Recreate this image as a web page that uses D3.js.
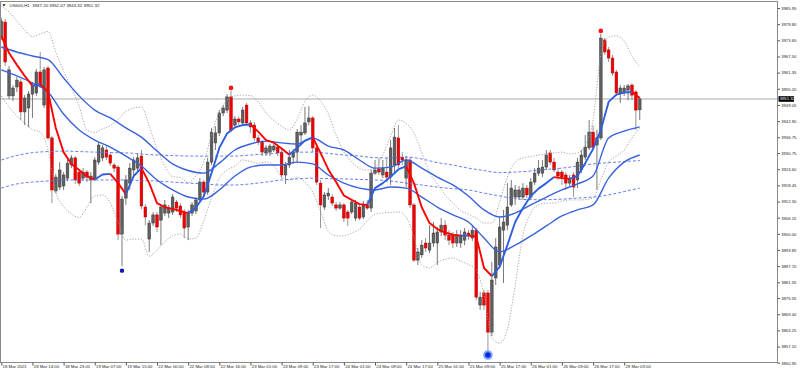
<!DOCTYPE html>
<html><head><meta charset="utf-8">
<script src="https://cdn.jsdelivr.net/npm/d3@7"></script>
<style>html,body{margin:0;padding:0;background:#fff;overflow:hidden}svg{display:block}</style>
</head><body><svg id="c" width="800" height="374"></svg>
<script>
// ---------- DATA (US500, H1) ----------
const symbolTitle = "US500,H1  3947.20 3952.07 3943.32 3951.32";
const lastPrice = 3951.32;

const open = [3974.9,3980.6,3952.5,3952.5,3955.9,3957.8,3946.4,3947.9,3953.2,3953.6,
3961.6,3949.0,3963.1,3936.5,3916.3,3917.8,3918.2,3921.2,3926.2,3928.9,
3923.5,3921.2,3923.5,3920.5,3921.2,3927.3,3928.9,3931.9,3930.0,3926.2,
3925.4,3899.9,3913.6,3919.3,3924.3,3925.0,3929.6,3910.2,3898.0,3904.1,
3907.2,3905.2,3907.9,3907.9,3908.3,3912.1,3910.6,3908.3,3902.6,3907.9,
3908.7,3912.9,3919.7,3915.9,3927.3,3934.6,3938.4,3946.0,3947.1,3952.1,
3941.4,3943.7,3942.2,3949.0,3942.2,3941.4,3936.5,3934.9,3930.8,3931.1,
3931.9,3933.0,3931.1,3922.4,3926.2,3929.2,3931.1,3937.6,3938.4,3942.6,
3944.1,3932.7,3919.3,3910.2,3914.4,3914.0,3911.0,3909.8,3911.0,3908.3,
3908.3,3906.0,3910.2,3906.4,3911.0,3909.8,3923.1,3924.7,3922.4,3923.5,
3921.6,3926.2,3936.5,3929.2,3921.2,3928.1,3911.0,3890.0,3892.0,3896.5,
3893.8,3896.5,3896.5,3900.7,3903.3,3899.5,3899.5,3896.5,3896.5,3897.6,
3900.3,3898.4,3901.4,3872.9,3877.5,3877.5,3862.6,3883.2,3888.1,3901.4,
3903.3,3911.0,3914.0,3914.0,3914.0,3917.4,3914.0,3919.7,3923.1,3923.1,
3925.4,3930.8,3927.3,3923.5,3923.5,3922.4,3919.3,3922.4,3920.5,3924.3,
3929.2,3932.7,3938.7,3933.8,3936.5,3973.8,3970.0,3966.9,3961.6,3953.6,
3954.0,3954.7,3956.6,3954.0,3947.20];
const high = [3982.1,3981.8,3963.9,3956.6,3959.7,3958.9,3952.8,3954.4,3957.8,3962.7,
3969.2,3963.5,3963.9,3937.2,3922.8,3927.3,3923.5,3928.1,3930.0,3929.6,
3924.3,3925.0,3924.3,3923.5,3929.2,3934.9,3933.8,3933.4,3931.1,3926.9,
3926.2,3914.4,3922.4,3926.9,3929.2,3930.4,3931.9,3911.3,3905.2,3908.3,
3908.3,3911.3,3912.9,3911.0,3915.1,3912.9,3911.7,3909.4,3909.1,3912.1,
3914.0,3921.2,3920.5,3928.9,3940.3,3941.0,3947.1,3949.0,3953.2,3954.4,
3944.8,3944.5,3948.3,3949.8,3943.3,3942.6,3937.6,3935.7,3933.8,3934.2,
3934.6,3934.2,3932.3,3927.3,3931.9,3932.3,3939.9,3941.4,3948.3,3948.6,
3944.8,3933.8,3920.5,3915.9,3917.4,3915.1,3912.1,3912.1,3911.7,3909.1,
3913.2,3912.9,3911.3,3912.5,3912.9,3924.3,3928.1,3928.9,3928.1,3928.9,
3935.7,3940.3,3941.4,3931.1,3929.6,3929.2,3911.7,3894.6,3897.6,3898.4,
3903.3,3904.5,3902.6,3906.0,3905.2,3901.4,3900.7,3901.4,3901.4,3902.2,
3901.4,3903.0,3902.2,3877.8,3878.6,3878.6,3889.3,3898.4,3906.4,3909.1,
3919.3,3920.5,3918.6,3918.2,3919.3,3918.6,3921.2,3925.0,3928.1,3928.1,
3931.9,3931.9,3928.9,3925.0,3924.3,3923.5,3922.4,3923.5,3928.9,3931.9,
3937.6,3943.3,3941.4,3939.5,3976.1,3974.5,3971.1,3968.1,3962.4,3956.6,
3956.6,3957.0,3957.4,3954.7,3952.07];
const low = [3973.8,3963.9,3951.3,3950.5,3954.0,3943.3,3941.4,3940.6,3944.1,3952.5,
3955.5,3947.9,3935.7,3911.7,3915.5,3916.7,3916.7,3920.1,3925.0,3919.0,
3918.2,3920.1,3919.7,3911.7,3920.1,3926.2,3927.7,3928.1,3925.8,3923.5,
3897.6,3887.7,3911.0,3916.7,3922.4,3923.5,3909.4,3903.3,3893.1,3903.0,
3900.7,3895.7,3906.8,3906.0,3907.2,3908.3,3906.0,3898.4,3897.6,3906.8,
3907.5,3912.1,3914.4,3914.8,3926.2,3931.9,3937.2,3944.8,3946.0,3938.7,
3940.3,3941.4,3941.0,3941.0,3938.4,3935.3,3933.8,3929.6,3929.6,3929.6,
3931.1,3929.6,3921.2,3919.0,3925.0,3926.6,3927.3,3933.8,3937.6,3941.4,
3931.1,3918.6,3902.2,3909.1,3912.9,3910.6,3908.7,3909.1,3904.5,3903.0,
3907.5,3904.9,3905.2,3905.6,3909.1,3908.3,3922.4,3922.4,3921.2,3919.7,
3918.6,3923.5,3925.0,3926.2,3917.8,3909.8,3889.3,3888.1,3890.8,3893.1,
3892.7,3895.0,3888.1,3899.2,3897.6,3895.7,3894.6,3895.0,3894.6,3895.7,
3897.6,3897.3,3874.8,3871.0,3871.0,3855.0,3861.1,3880.5,3887.0,3881.3,
3901.4,3910.2,3911.0,3912.9,3912.9,3913.6,3912.9,3918.6,3922.0,3921.6,
3924.3,3926.2,3923.5,3920.5,3918.6,3916.7,3918.2,3914.0,3917.4,3923.1,
3928.1,3931.9,3931.9,3916.7,3935.7,3968.1,3965.4,3960.1,3952.5,3949.8,
3952.5,3950.9,3950.9,3939.5,3943.32];
const close = [3981.0,3965.4,3962.4,3955.5,3958.5,3946.4,3951.7,3953.2,3956.6,3961.6,
3956.6,3962.4,3936.5,3916.7,3921.6,3924.3,3922.4,3926.9,3928.9,3920.5,
3919.3,3923.5,3921.6,3922.0,3928.1,3933.8,3932.7,3929.2,3926.9,3925.0,
3899.9,3913.2,3920.5,3925.0,3928.1,3928.9,3910.6,3906.4,3904.1,3907.2,
3902.6,3910.2,3911.0,3909.8,3914.0,3909.8,3907.2,3902.2,3907.9,3911.0,
3912.9,3919.7,3915.9,3927.3,3938.7,3938.4,3946.0,3947.9,3952.1,3939.5,
3943.7,3942.6,3947.1,3942.2,3940.7,3936.5,3934.9,3931.1,3932.7,3933.4,
3933.4,3930.8,3922.4,3926.2,3929.2,3931.1,3938.7,3938.7,3942.2,3944.1,
3932.7,3919.7,3911.0,3914.8,3915.5,3911.7,3909.8,3911.0,3906.0,3906.0,
3912.1,3911.7,3906.0,3911.0,3909.8,3923.1,3924.3,3923.5,3925.0,3921.6,
3932.7,3936.8,3926.2,3928.1,3928.1,3911.0,3890.0,3893.1,3895.7,3894.6,
3896.5,3900.3,3900.7,3903.3,3899.5,3897.6,3896.5,3899.5,3899.5,3900.7,
3899.2,3901.4,3875.9,3875.9,3872.9,3862.6,3882.4,3895.0,3902.6,3904.5,
3910.2,3917.4,3916.7,3916.7,3917.4,3914.8,3919.7,3923.1,3925.0,3925.4,
3930.0,3927.3,3924.3,3922.0,3921.6,3919.3,3921.2,3917.8,3927.3,3930.0,
3933.0,3938.7,3933.0,3936.5,3974.5,3969.2,3966.9,3961.2,3953.6,3955.5,
3955.5,3956.3,3952.8,3947.1,3951.32];

// fast colour-changing MA, sampled every 2 bars
const fastMA = [3975.3,3968.8,3964.3,3960.1,3956.3,3957.0,3954.0,3940.3,3931.1,3926.6,
3924.3,3921.8,3920.7,3922.6,3922.8,3919.3,3915.1,3922.0,3925.0,3919.3,
3911.7,3910.1,3909.5,3908.7,3907.9,3910.0,3914.2,3923.1,3932.7,3938.2,
3940.5,3941.4,3941.6,3938.9,3935.7,3934.7,3932.5,3930.1,3932.7,3935.5,
3936.7,3930.8,3924.5,3919.7,3914.6,3912.9,3911.3,3911.0,3917.4,3919.3,
3921.7,3924.5,3925.8,3919.3,3910.1,3904.1,3901.8,3900.5,3899.7,3899.3,
3899.3,3899.0,3887.0,3883.9,3887.4,3895.7,3904.5,3909.8,3914.4,3917.2,
3919.3,3921.6,3921.2,3920.9,3922.0,3926.9,3932.3,3939.5,3950.2,3953.0,
3953.8,3954.0,3951.7];
// price envelope (grey dotted), sampled every 2 bars
const bollUpper = [3986.7,3984.4,3981.0,3977.6,3975.1,3976.1,3977.0,3969.2,3962.0,3955.5,
3948.6,3939.5,3938.6,3939.9,3941.2,3943.5,3946.6,3947.9,3948.3,3941.0,
3932.3,3925.8,3921.8,3921.5,3919.5,3922.2,3927.3,3937.6,3946.4,3950.9,
3952.5,3952.8,3952.6,3950.2,3946.0,3943.1,3941.0,3939.5,3943.7,3950.5,
3952.8,3950.5,3945.6,3937.6,3931.1,3927.3,3925.0,3924.3,3925.2,3930.0,
3937.2,3943.3,3942.0,3938.4,3930.8,3923.5,3919.0,3914.8,3911.7,3908.9,
3907.5,3906.0,3904.1,3904.1,3912.1,3921.6,3927.3,3928.9,3929.4,3930.0,
3930.4,3930.8,3931.1,3930.4,3930.8,3933.8,3943.3,3968.1,3974.9,3975.3,
3973.4,3967.7,3963.5];
const bollLower = [3952.5,3948.3,3944.8,3942.2,3939.7,3938.7,3931.9,3915.9,3910.4,3907.6,
3906.2,3910.2,3914.4,3914.8,3911.7,3904.5,3897.6,3898.0,3898.0,3891.5,
3893.8,3896.9,3899.2,3899.9,3898.0,3898.4,3904.9,3913.6,3921.2,3924.3,
3925.8,3928.1,3927.5,3926.9,3927.3,3926.0,3921.6,3920.5,3921.6,3919.7,
3915.9,3908.7,3901.1,3899.3,3899.2,3900.3,3901.8,3904.9,3907.5,3907.9,
3908.1,3908.3,3906.4,3898.8,3888.1,3887.0,3889.1,3890.4,3890.8,3889.6,
3888.3,3886.2,3876.7,3860.3,3858.4,3863.7,3880.5,3899.5,3907.9,3911.0,
3911.7,3911.7,3912.5,3912.9,3912.9,3913.0,3913.6,3920.5,3927.3,3929.6,
3931.9,3936.5,3940.3];
// MA channel (solid blue), sampled every 4 bars
const chanUpper = [3971.1,3969.2,3967.7,3966.3,3959.3,3952.5,3947.1,3944.1,3940.3,3936.8,
3931.5,3926.6,3924.1,3923.1,3926.9,3931.9,3934.2,3935.3,3934.6,3934.2,
3936.5,3933.4,3931.9,3928.1,3925.0,3925.4,3928.1,3925.0,3921.6,3918.6,
3914.4,3909.1,3906.4,3907.9,3911.0,3914.0,3916.7,3919.0,3922.0,3936.5,
3939.1,3940.7];
const chanLower = [3962.4,3960.1,3957.4,3954.0,3945.6,3939.5,3935.7,3933.0,3929.6,3925.8,
3920.5,3916.7,3914.0,3913.2,3916.7,3922.0,3925.4,3926.2,3926.2,3927.3,
3926.6,3922.4,3919.3,3917.4,3916.7,3917.8,3917.4,3914.0,3910.2,3907.2,
3904.5,3898.4,3893.1,3895.7,3899.2,3903.0,3906.8,3909.1,3911.0,3921.2,
3927.3,3930.0];
// slow envelope (dashed blue), sampled every 4 bars
const envUpper = [3928.1,3929.8,3930.9,3931.3,3931.5,3931.3,3931.1,3930.9,3930.8,3930.4,
3930.0,3929.8,3929.6,3929.6,3929.6,3929.6,3930.0,3930.4,3930.8,3931.1,
3931.1,3930.6,3930.0,3929.6,3929.0,3928.9,3929.2,3928.5,3927.1,3926.2,
3925.0,3924.1,3923.3,3923.5,3923.9,3924.5,3925.0,3925.8,3926.6,3927.1,
3927.5,3927.9];
const envLower = [3917.4,3919.0,3919.7,3920.1,3920.5,3920.5,3920.5,3920.5,3920.5,3920.3,
3920.1,3919.7,3919.3,3919.0,3918.6,3918.6,3919.0,3919.7,3920.5,3920.9,
3921.2,3921.0,3920.9,3920.7,3920.5,3920.1,3919.3,3918.6,3917.8,3917.2,
3916.7,3915.5,3914.4,3913.4,3913.0,3913.0,3913.2,3913.6,3914.0,3914.8,
3916.1,3917.4];

// swing markers (bar index)
const swingHighBars = [59, 154];
const swingLowBars = [31];
const majorLowBars = [125];

// axis labels
const timeTickBars = [0,8,16,24,32,40,48,56,64,72,80,88,96,104,112,120,128,136,144,152,160];
const timeTickLabels = ["18 Mar 2021","18 Mar 14:00","18 Mar 23:01","19 Mar 07:00","19 Mar 15:00",
"22 Mar 00:00","22 Mar 08:00","22 Mar 16:00","23 Mar 01:00","23 Mar 09:00","23 Mar 17:00",
"24 Mar 01:00","24 Mar 09:00","24 Mar 17:00","25 Mar 01:00","25 Mar 09:00","25 Mar 17:00",
"26 Mar 01:00","26 Mar 09:00","26 Mar 17:00","29 Mar 03:00"];
const priceTickLabels = ["3985.95","3979.80","3973.65","3967.50","3961.35","3955.20","3949.05",
"3942.90","3936.75","3930.75","3924.60","3918.45","3912.30","3906.15","3900.00","3893.85",
"3887.70","3881.55","3875.55","3869.40","3863.25","3857.10","3850.95"];

// ---------- DRAW ----------
const W = 800, H = 374;
const PL = 0.5, PT = 1.5, PR = 777.5, PB = 362.5;
const N = open.length;
const svg = d3.select("#c");
const FONT = "'Liberation Sans', Arial, sans-serif";

const x = d3.scaleLinear().domain([0, N - 1]).range([1.3, 639.75]);
const y = d3.scaleLinear().domain([3850.95, 3985.95]).range([362.7, 8]);

svg.append("rect").attr("width", W).attr("height", H).attr("fill", "#fff");
svg.append("defs").append("clipPath").attr("id", "clip")
  .append("rect").attr("x", PL).attr("y", PT).attr("width", PR - PL).attr("height", PB - PT);

const g = svg.append("g").attr("clip-path", "url(#clip)");

// current price line
g.append("line").attr("x1", PL).attr("x2", PR)
  .attr("y1", y(lastPrice)).attr("y2", y(lastPrice))
  .attr("stroke", "#a9a9a9").attr("stroke-width", 1);

// candles
const bars = d3.range(N);
const cg = g.append("g");
cg.selectAll("line.wick").data(bars).join("line")
  .attr("x1", i => x(i)).attr("x2", i => x(i))
  .attr("y1", i => y(high[i])).attr("y2", i => y(low[i]))
  .attr("stroke", i => close[i] >= open[i] ? "#6a6a6a" : "#8a8a8a").attr("stroke-width", 0.9);
cg.selectAll("rect.body").data(bars).join("rect")
  .attr("x", i => x(i) - 1.35).attr("width", 2.7)
  .attr("y", i => Math.min(y(open[i]), y(close[i])))
  .attr("height", i => Math.max(0.8, Math.abs(y(open[i]) - y(close[i]))))
  .attr("fill", i => close[i] >= open[i] ? "#5f5f5f" : "#ee0000")
  .attr("stroke", i => close[i] >= open[i] ? "#3c3c3c" : "#b80000")
  .attr("stroke-width", 0.5);

// indicator lines
const idx2 = d3.range(0, N, 2);
const idx4 = d3.range(0, N, 4);
function drawSeries(vals, idx, stroke, width, dash) {
  const line = d3.line().x((d, k) => x(idx[k])).y(d => y(d)).curve(d3.curveMonotoneX);
  g.append("path").datum(vals).attr("d", line).attr("fill", "none")
    .attr("stroke", stroke).attr("stroke-width", width)
    .attr("stroke-dasharray", dash || null);
}
drawSeries(bollUpper, idx2, "#9c9c9c", 0.9, "1.2,1.6");
drawSeries(bollLower, idx2, "#9c9c9c", 0.9, "1.2,1.6");
drawSeries(envUpper, idx4, "#5570ee", 0.9, "3,2");
drawSeries(envLower, idx4, "#5570ee", 0.9, "3,2");
drawSeries(chanUpper, idx4, "#3a62dc", 1.4);
drawSeries(chanLower, idx4, "#3a62dc", 1.4);

// fast MA, red when falling, blue when rising
const runs = [];
for (let k = 1; k < fastMA.length; k++) {
  const col = fastMA[k] < fastMA[k - 1] ? "#ff0000" : "#2f5fe0";
  if (runs.length && runs[runs.length - 1].col === col) runs[runs.length - 1].pts.push(k);
  else runs.push({ col, pts: [k - 1, k] });
}
const fLine = d3.line().x(k => x(idx2[k])).y(k => y(fastMA[k]));
runs.forEach(r => {
  g.append("path").datum(r.pts).attr("d", fLine).attr("fill", "none")
    .attr("stroke", r.col).attr("stroke-width", 1.9).attr("stroke-linejoin", "round");
});

// swing markers
swingHighBars.forEach(b => g.append("circle").attr("cx", x(b)).attr("cy", y(high[b]) - 3)
  .attr("r", 2.3).attr("fill", "#ff1010"));
swingLowBars.forEach(b => g.append("circle").attr("cx", x(b)).attr("cy", y(low[b]) + 4.5)
  .attr("r", 2.2).attr("fill", "#0b16b8"));
majorLowBars.forEach(b => {
  g.append("circle").attr("cx", x(b)).attr("cy", y(low[b]) + 3).attr("r", 4.8).attr("fill", "#7da2ff");
  g.append("circle").attr("cx", x(b)).attr("cy", y(low[b]) + 3).attr("r", 2.8).attr("fill", "#0a2ad6");
});

// frame
svg.append("rect").attr("x", PL).attr("y", PT).attr("width", PR - PL).attr("height", PB - PT)
  .attr("fill", "none").attr("stroke", "#8a8a8a").attr("stroke-width", 1);

// right price axis
const yAxis = d3.axisRight(y)
  .tickValues(priceTickLabels.map(Number))
  .tickFormat((d, i) => priceTickLabels[i])
  .tickSize(2.5).tickPadding(1.2);
const ya = svg.append("g").attr("transform", `translate(${PR},0)`).call(yAxis);
ya.select(".domain").remove();
ya.selectAll("line").attr("stroke", "#555");
ya.selectAll("text").attr("font-family", FONT).attr("font-size", 4.2).attr("fill", "#222");

// current price label
const ly = y(lastPrice);
svg.append("rect").attr("x", PR + 1).attr("y", ly - 2.8).attr("width", 15.5).attr("height", 5.6).attr("fill", "#000");
svg.append("text").attr("x", PR + 2.2).attr("y", ly).attr("dy", "0.34em")
  .attr("font-family", FONT).attr("font-size", 4.2).attr("fill", "#fff").text(lastPrice.toFixed(2));

// bottom time axis
const xAxis = d3.axisBottom(x)
  .tickValues(timeTickBars)
  .tickFormat((d, i) => timeTickLabels[i])
  .tickSize(3).tickPadding(0.5);
const xa = svg.append("g").attr("transform", `translate(0,${PB})`).call(xAxis);
xa.select(".domain").remove();
xa.selectAll("line").attr("stroke", "#555");
xa.selectAll("text").attr("font-family", FONT).attr("font-size", 4.3).attr("fill", "#222")
  .attr("text-anchor", "start").attr("dx", 0.8).attr("dy", "0.5em");

// title
svg.append("path").attr("d", "M2.4,4.2 L5.6,4.2 L4,6.4 Z").attr("fill", "#222");
svg.append("text").attr("x", 9.5).attr("y", 6.6).attr("font-family", FONT).attr("font-size", 4.4)
  .attr("fill", "#222").attr("xml:space", "preserve").style("white-space", "pre").text(symbolTitle);
</script>
</body></html>
